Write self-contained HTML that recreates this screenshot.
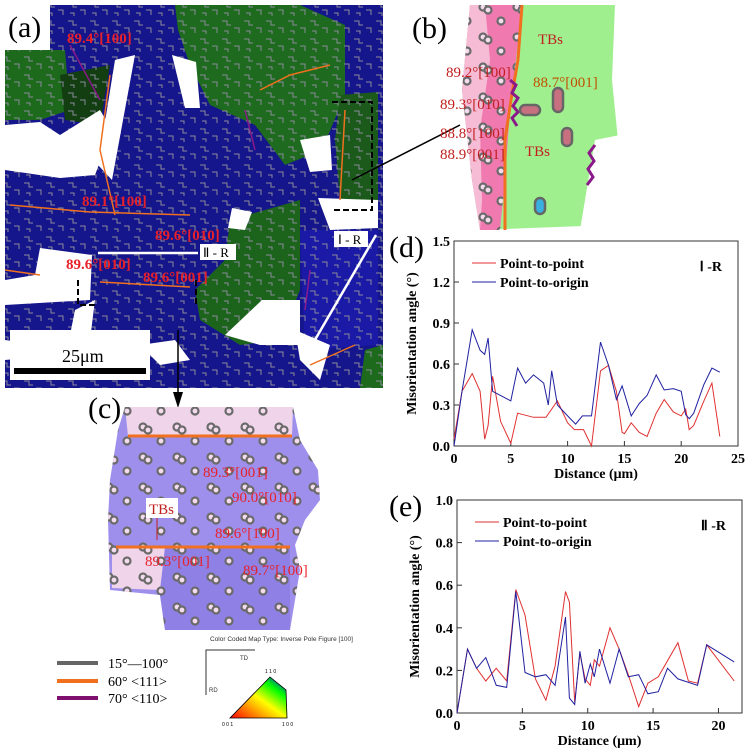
<!DOCTYPE html>
<html><head><meta charset="utf-8"><style>
body{margin:0;background:#fff}
svg{display:block}
.ser{font-family:"Liberation Serif",serif}
.lab{font-family:"Liberation Serif",serif;fill:#e8202a;font-size:15px}
.tk{font-family:"Liberation Serif",serif;font-weight:bold;font-size:14px}
</style></head><body>
<svg id="fig" width="750" height="754" viewBox="0 0 750 754" xmlns="http://www.w3.org/2000/svg">
<defs>
<pattern id="gb" width="22" height="18" patternUnits="userSpaceOnUse">
<path d="M2 3h5v4h4M14 10h5v5M4 13h4v3" stroke="#8a8a9a" stroke-width="1" fill="none"/>
</pattern>
<pattern id="gb2" width="34" height="30" patternUnits="userSpaceOnUse">
<g fill="#f4dcee" stroke="#6a6a6a" stroke-width="2.2">
<circle cx="7" cy="7" r="3.5"/><circle cx="12" cy="10" r="3.5"/>
<circle cx="25" cy="21" r="3.5"/>
</g>
</pattern>
<linearGradient id="tri" x1="0" y1="1" x2="1" y2="0">
<stop offset="0" stop-color="#f00"/><stop offset="0.5" stop-color="#ff0"/><stop offset="0.75" stop-color="#0f0"/><stop offset="1" stop-color="#00f"/>
</linearGradient>
</defs>

<!-- panel a -->
<g>
<rect x="5" y="5" width="378" height="383" fill="#16168c"/>
<polygon points="175,5 300,5 345,25 345,95 322,150 285,165 255,125 210,105 190,65 178,30" fill="#1e6a1e"/>
<polygon points="340,95 378,92 378,225 350,228 340,200 335,140" fill="#1c5a1c"/>
<polygon points="5,50 65,50 70,110 40,120 5,120" fill="#1d6a1d"/>
<polygon points="60,75 110,65 100,125 65,120" fill="#123e12"/>
<polygon points="230,220 300,200 300,290 280,340 240,345 200,320 195,290 225,260" fill="#1c641c"/>
<polygon points="300,230 378,230 378,345 305,350" fill="#1a1aa6"/>
<polygon points="365,350 383,345 383,388 360,388" fill="#1d6a1d"/>
<rect x="5" y="5" width="378" height="383" fill="url(#gb)"/>
<g fill="#fff">
<polygon points="0,0 50,0 50,50 0,50"/>
<polygon points="5,125 40,122 60,135 100,110 112,130 95,175 60,178 5,170"/>
<polygon points="115,60 135,55 112,180 98,165"/>
<polygon points="172,55 196,62 200,108 185,108"/>
<polygon points="40,248 92,255 90,300 5,305 5,280 35,275"/>
<polygon points="75,310 95,300 90,340 70,335"/>
<polygon points="232,208 252,212 245,230 228,228"/>
<polygon points="225,335 262,300 300,300 300,345 260,345"/>
<polygon points="300,140 330,135 332,170 310,172"/>
<polygon points="318,198 378,200 378,228 330,230"/>
<polygon points="5,340 40,345 60,355 5,360"/>
<polygon points="140,345 175,340 190,360 160,365"/>
<polygon points="295,330 330,345 320,380 300,360"/>
</g>
<g fill="none" stroke="#f07020" stroke-width="1.5">
<path d="M10,205 L90,212 L190,215"/><path d="M100,282 L190,287"/><path d="M260,90 L290,75 L330,65"/><path d="M110,75 L100,150 L115,215"/>
<path d="M310,365 L355,345"/><path d="M5,270 L40,275"/><path d="M345,110 L340,200"/>
</g>
<g fill="none" stroke="#8a1a8a" stroke-width="1.5"><path d="M70,45 L100,100"/><path d="M245,110 L255,150"/><path d="M310,270 L305,310"/></g>
<text x="8" y="37" class="ser" font-size="30">(a)</text>
<text x="67" y="43" class="lab" font-weight="bold" font-size="15">89.4°[100]</text>
<text x="82" y="206" class="lab" font-weight="bold" font-size="15">89.1°[100]</text>
<text x="155" y="240" class="lab" font-weight="bold" font-size="15">89.6°[010]</text>
<text x="66" y="269" class="lab" font-weight="bold" font-size="15">89.6°[010]</text>
<text x="143" y="282" class="lab" font-weight="bold" font-size="15">89.6°[001]</text>
<line x1="98" y1="253" x2="198" y2="253" stroke="#fff" stroke-width="2.5"/>
<rect x="200" y="244" width="36" height="16" fill="#fff"/><text x="203" y="257" class="ser" font-size="13">Ⅱ - R</text>
<line x1="312" y1="345" x2="376" y2="235" stroke="#fff" stroke-width="2.5"/>
<rect x="334" y="231" width="34" height="16" fill="#fff"/><text x="338" y="244" class="ser" font-size="13">Ⅰ - R</text>
<path d="M78,280v25h18M196,280v25" stroke="#000" stroke-width="2" stroke-dasharray="6,3" fill="none"/>
<path d="M332,102h40v108h-40" stroke="#000" stroke-width="2" stroke-dasharray="6,3" fill="none"/>
<line x1="352" y1="180" x2="460" y2="125" stroke="#000" stroke-width="1.5"/>
<line x1="178" y1="330" x2="178" y2="400" stroke="#000" stroke-width="1.5"/>
<polygon points="173,392 183,392 178,408" fill="#000"/>
<rect x="10" y="330" width="140" height="50" fill="#fff"/>
<text x="62" y="362" class="ser" font-size="18">25μm</text>
<rect x="14" y="368" width="132" height="6" fill="#000"/>
</g>

<!-- panel b -->
<g>
<text x="412" y="38" class="ser" font-size="30">(b)</text>
<polygon points="470,5 615,5 612,80 618,140 610,225 480,230 472,180 462,90" fill="#a0ef8e"/>
<polygon points="595,140 620,135 620,230 580,230" fill="#fff"/>
<polygon points="470,5 522,5 516,60 510,110 505,180 500,230 480,230 472,180 462,90" fill="#f07ab0"/>
<polygon points="470,5 485,5 490,60 480,130 482,200 480,230 472,180 462,90" fill="#f6bcd6"/>
<polygon points="470,5 522,5 516,60 510,110 505,180 500,230 480,230 472,180 462,90" fill="url(#gb2)"/>
<path d="M522,5 L518,60 L511,100 L505,140 L505,230" stroke="#f07020" stroke-width="3" fill="none"/>
<path d="M510,80 l6,5 -4,8 6,5 -5,8 5,6 -6,6 5,8" stroke="#8a1a8a" stroke-width="3" fill="none"/>
<path d="M595,145 l-6,8 5,8 -6,8 5,8 -6,8" stroke="#8a1a8a" stroke-width="3" fill="none"/>
<g fill="#c87080" stroke="#666" stroke-width="2.5">
<rect x="520" y="105" width="20" height="10" rx="5"/><rect x="553" y="88" width="10" height="24" rx="5"/><rect x="562" y="128" width="10" height="18" rx="5"/>
</g>
<rect x="535" y="198" width="10" height="16" rx="5" fill="#3ab0e0" stroke="#666" stroke-width="2.5"/>
<text x="538" y="44" class="lab" font-size="14" style="fill:#c02020">TBs</text>
<text x="525" y="156" class="lab" font-size="14" style="fill:#c02020">TBs</text>
<text x="533" y="87" class="lab" font-size="14" style="fill:#c05000">88.7°[001]</text>
<text x="446" y="77" class="lab" font-size="14" style="fill:#c02020">89.2°[1̄00]</text>
<text x="440" y="109" class="lab" font-size="14" style="fill:#c02020">89.3°[01̄0]</text>
<text x="440" y="138" class="lab" font-size="14" style="fill:#c02020">88.8°[100]</text>
<text x="440" y="159" class="lab" font-size="14" style="fill:#c02020">88.9°[001]</text>
</g>

<!-- panel c -->
<g>
<text x="88" y="418" class="ser" font-size="30">(c)</text>
<polygon points="125,407 293,407 300,440 318,470 320,500 305,520 295,545 300,570 290,630 165,630 160,595 110,590 108,520 110,480 118,430" fill="#9f8fec"/>
<polygon points="125,407 293,407 292,436 128,436" fill="#f0d4ea"/>
<polygon points="160,547 290,547 290,630 165,630 160,595" fill="#8f80e6"/>
<polygon points="112,547 165,547 160,590 112,588" fill="#f0d4ea"/>
<polygon points="125,407 293,407 300,440 318,470 320,500 305,520 295,545 300,570 290,630 165,630 160,595 110,590 108,520 110,480 118,430" fill="url(#gb2)"/>
<line x1="128" y1="436" x2="292" y2="436" stroke="#f07020" stroke-width="3"/>
<line x1="116" y1="547" x2="290" y2="547" stroke="#f07020" stroke-width="3"/>
<text x="203" y="477" class="lab" font-size="17">89.3°[001]</text>
<text x="232" y="502" class="lab" font-size="17">90.0°[010]</text>
<text x="215" y="538" class="lab" font-size="17">89.6°[1̄00]</text>
<text x="145" y="566" class="lab" font-size="17">89.3°[001]</text>
<text x="243" y="575" class="lab" font-size="17">89.7°[100]</text>
<rect x="146" y="498" width="32" height="20" fill="#fff"/><text x="149" y="514" class="lab" font-size="15" style="fill:#c02020">TBs</text>
<line x1="157" y1="518" x2="157" y2="540" stroke="#c02020" stroke-width="1"/>
<text x="210" y="641" font-family="Liberation Sans,sans-serif" font-size="6.5" fill="#333">Color Coded Map Type: Inverse Pole Figure [100]</text>
</g>

<!-- legend -->
<g>
<line x1="57" y1="663" x2="98" y2="663" stroke="#666" stroke-width="4"/>
<text x="108" y="668" class="ser" font-size="14">15°—100°</text>
<line x1="57" y1="681" x2="98" y2="681" stroke="#f07020" stroke-width="4"/>
<text x="108" y="686" class="ser" font-size="14">60°  &lt;111&gt;</text>
<line x1="57" y1="698" x2="98" y2="698" stroke="#801070" stroke-width="4"/>
<text x="108" y="703" class="ser" font-size="14">70°  &lt;110&gt;</text>
<path d="M255,650H206V695" stroke="#333" fill="none"/>
<text x="240" y="660" font-family="Liberation Sans,sans-serif" font-size="6" fill="#333">TD</text>
<text x="209" y="692" font-family="Liberation Sans,sans-serif" font-size="6" fill="#333">RD</text>
<polygon points="230,718 287,718 286,690 270,677" fill="url(#tri)" stroke="#000" stroke-width="0.8"/>
<text x="265" y="673" font-family="Liberation Sans,sans-serif" font-size="5">1 1 0</text>
<text x="222" y="726" font-family="Liberation Sans,sans-serif" font-size="5">0 0 1</text>
<text x="282" y="726" font-family="Liberation Sans,sans-serif" font-size="5">1 0 0</text>
</g>

<g id="chartD"></g>
<g id="chartE"></g>
</svg>
<script>
const dX = [0,0.7,1.6,2.3,2.7,3.0,3.4,4.1,5,5.6,7,8.1,9.1,10,10.6,11.4,12.1,12.9,13.6,14.3,14.8,15,15.6,16.3,17,17.8,18.5,19.3,20,20.4,20.7,21.1,22,22.7,23.4];
const dRed = [0.05,0.4,0.53,0.4,0.05,0.15,0.51,0.18,0.02,0.24,0.21,0.21,0.33,0.17,0.12,0.12,0.0,0.55,0.59,0.4,0.1,0.09,0.17,0.1,0.07,0.24,0.34,0.25,0.22,0.27,0.12,0.15,0.33,0.46,0.07];
const dBlueX = [0,0.7,1.6,2.3,2.7,3.0,3.4,5,5.6,6.3,7,7.9,8.3,8.6,9.1,10,10.7,11.3,12.1,12.9,13.6,14.3,14.8,15.6,16.3,17,17.8,18.5,19.3,20,20.4,20.7,21.1,22,22.7,23.4];
const dBlue = [0,0.4,0.85,0.7,0.67,0.79,0.4,0.33,0.57,0.46,0.52,0.46,0.3,0.55,0.3,0.22,0.16,0.22,0.22,0.76,0.59,0.34,0.44,0.22,0.31,0.37,0.52,0.41,0.42,0.4,0.23,0.2,0.24,0.45,0.57,0.54];
const dXTicks = [0,5,10,15,20,25];
const dYTicks = [0,0.3,0.6,0.9,1.2,1.5];
const eRedX = [0,0.8,1.5,2.2,3,3.8,4.5,5.2,6,6.8,7.5,8.3,8.6,9,9.4,9.8,10.2,10.5,10.9,11.7,12.4,13.1,13.9,14.6,15.4,16.9,17.7,18.4,19.1,21.2];
const eRed = [0,0.3,0.21,0.15,0.21,0.15,0.58,0.46,0.16,0.06,0.22,0.57,0.52,0.05,0.28,0.16,0.13,0.25,0.22,0.4,0.3,0.18,0.03,0.14,0.17,0.33,0.15,0.14,0.32,0.15];
const eBlueX = [0,0.8,1.5,2.2,3,3.8,4.5,5.2,6,6.8,7.5,8.3,8.6,9,9.4,9.8,10.2,10.5,10.9,11.7,12.4,13.1,13.9,14.6,15.4,16.1,16.9,18.4,19.1,21.2];
const eBlue = [0,0.3,0.21,0.26,0.13,0.12,0.57,0.19,0.17,0.18,0.13,0.45,0.07,0.04,0.29,0.14,0.23,0.17,0.3,0.14,0.3,0.17,0.18,0.09,0.1,0.21,0.16,0.13,0.32,0.24];
const eXTicks = [0,5,10,15,20];
const eYTicks = [0,0.2,0.4,0.6,0.8,1.0];
const NS='http://www.w3.org/2000/svg';
function mk(p,t,a){const e=document.createElementNS(NS,t);for(const k in a)e.setAttribute(k,a[k]);p.appendChild(e);return e;}
function chart(g,box,xmax,ymax,xt,yt,yd,series,letter,tag){
  const sx=v=>box.x0+(v/xmax)*(box.x1-box.x0), sy=v=>box.y1-(v/ymax)*(box.y1-box.y0);
  const fr=mk(g,'rect',{x:box.x0,y:box.y0,width:box.x1-box.x0,height:box.y1-box.y0,fill:'none',stroke:'#333','stroke-width':1});
  
  
  xt.forEach(v=>{mk(g,'line',{x1:sx(v),x2:sx(v),y1:box.y1,y2:box.y1-5,stroke:'#333'});
    const t=mk(g,'text',{x:sx(v),y:box.y1+17,'text-anchor':'middle',class:'tk'});t.textContent=v;
    
    });
  yt.forEach(v=>{mk(g,'line',{x1:box.x0,x2:box.x0+5,y1:sy(v),y2:sy(v),stroke:'#333'});
    const t=mk(g,'text',{x:box.x0-4,y:sy(v)+5,'text-anchor':'end',class:'tk'});t.textContent=v.toFixed(yd);
    
    });
  series.forEach(s=>{const d=s.x.map((x,i)=>(i?'L':'M')+sx(x).toFixed(1)+','+sy(s.y[i]).toFixed(1)).join('');
    const p=mk(g,'path',{d:d,fill:'none',stroke:s.c,'stroke-width':1});
    
    });
  const xl=mk(g,'text',{x:(box.x0+box.x1)/2,y:box.y1+32,'text-anchor':'middle',class:'tk','font-size':'15'});xl.textContent='Distance (μm)';
  
  
  const cy=(box.y0+box.y1)/2;
  const yl=mk(g,'text',{x:box.x0-38,y:cy,'text-anchor':'middle',class:'tk','font-size':'15',transform:`rotate(-90 ${box.x0-38} ${cy})`});yl.textContent='Misorientation angle (°)';
  
  
  [['#e03030','Point-to-point',22],['#2020a0','Point-to-origin',41]].forEach(l=>{
    mk(g,'line',{x1:box.x0+18,x2:box.x0+42,y1:box.y0+l[2],y2:box.y0+l[2],stroke:l[0]});
    const t=mk(g,'text',{x:box.x0+46,y:box.y0+l[2]+5,class:'tk'});t.textContent=l[1];
    
    });
  const tg=mk(g,'text',{x:box.x1-16,y:box.y0+30,'text-anchor':'end',class:'tk','font-size':'18'});tg.textContent=tag;
  
  
  const pl=mk(g,'text',{x:389,y:box.y0+16,class:'ser','font-size':'30'});pl.textContent=letter;
  
  
}
chart(document.getElementById('chartD'),{x0:454,x1:738,y0:241,y1:446},25,1.5,dXTicks,dYTicks,1,
 [{x:dX,y:dRed,c:'#e03030',n:'series-point-to-point'},{x:dBlueX,y:dBlue,c:'#2020a0',n:'series-point-to-origin'}],'(d)','Ⅰ -R');
chart(document.getElementById('chartE'),{x0:457,x1:742,y0:500,y1:713},21.8,1.0,eXTicks,eYTicks,1,
 [{x:eRedX,y:eRed,c:'#e03030',n:'series-point-to-point'},{x:eBlueX,y:eBlue,c:'#2020a0',n:'series-point-to-origin'}],'(e)','Ⅱ -R');
</script>
</body></html>
